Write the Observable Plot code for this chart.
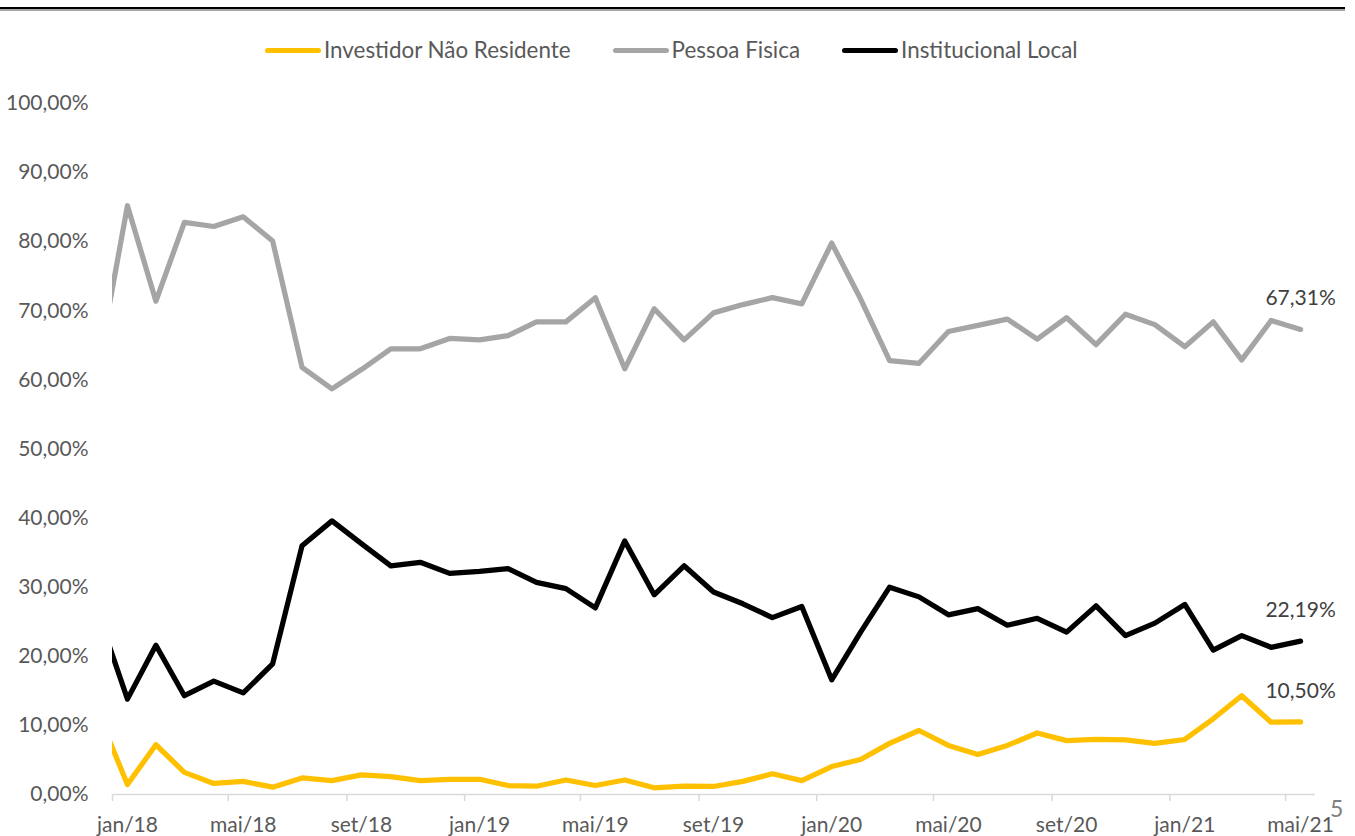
<!DOCTYPE html>
<html><head><meta charset="utf-8">
<script src="https://cdn.jsdelivr.net/npm/d3@7"></script>
<script src="https://cdn.jsdelivr.net/npm/@observablehq/plot@0.6"></script>
<style>
body{margin:0;background:#fff;font-family:Lato,"Open Sans",sans-serif;}
#wrap{position:relative;width:1355px;height:836px;overflow:hidden;background:#fff;}
#ruleBlack{position:absolute;left:0;top:7px;width:1345px;height:2px;background:#000;}
#ruleGray{position:absolute;left:0;top:9px;width:1345px;height:2px;background:#a6a6a6;}
#legend{position:absolute;left:265px;top:37px;display:flex;align-items:center;font-size:22.4px;line-height:26px;color:#595959;white-space:nowrap;}
#legend .item{display:flex;align-items:center;margin-right:42px;}
#legend .sw{display:inline-block;width:56px;height:5px;border-radius:3px;margin-right:3px;}
#chart{position:absolute;left:0;top:0;}
#page{position:absolute;left:1330px;top:797px;font-size:23px;line-height:23px;color:#7f7f7f;}
</style></head><body>
<div id="wrap">
  <div id="ruleBlack"></div><div id="ruleGray"></div>
  <div id="chart"></div>
  <div id="legend"></div>
  <div id="page">5</div>
</div>
<script>
// ---- data ----
const months = [
  "2017-12",
  "2018-01","2018-02","2018-03","2018-04","2018-05","2018-06","2018-07","2018-08","2018-09","2018-10","2018-11","2018-12",
  "2019-01","2019-02","2019-03","2019-04","2019-05","2019-06","2019-07","2019-08","2019-09","2019-10","2019-11","2019-12",
  "2020-01","2020-02","2020-03","2020-04","2020-05","2020-06","2020-07","2020-08","2020-09","2020-10","2020-11","2020-12",
  "2021-01","2021-02","2021-03","2021-04","2021-05"
];
const naoResidente = [
  12.0,
  1.45, 7.2, 3.2, 1.6, 1.9, 1.06, 2.4, 2.0, 2.85, 2.6, 2.0, 2.2,
  2.2, 1.3, 1.2, 2.1, 1.3, 2.1, 0.97, 1.2, 1.16, 1.9, 3.0, 2.0,
  4.05, 5.06, 7.4, 9.26, 7.1, 5.8, 7.1, 8.9, 7.8, 7.96, 7.9, 7.4,
  7.96, 10.95, 14.3, 10.46, 10.50
];
const pessoaFisica = [
  61.5,
  85.2, 71.4, 82.8, 82.2, 83.6, 80.1, 61.8, 58.7, 61.5, 64.5, 64.5, 66.0,
  65.8, 66.4, 68.4, 68.4, 71.9, 61.6, 70.3, 65.8, 69.7, 70.9, 71.9, 71.0,
  79.8, 71.7, 62.8, 62.4, 67.0, 67.9, 68.8, 65.9, 69.0, 65.1, 69.5, 68.0,
  64.8, 68.4, 62.9, 68.6, 67.31
];
const institucional = [
  26.5,
  13.8, 21.6, 14.3, 16.4, 14.7, 18.9, 36.0, 39.6, 36.3, 33.1, 33.6, 32.0,
  32.3, 32.7, 30.7, 29.8, 27.0, 36.7, 28.9, 33.1, 29.3, 27.6, 25.6, 27.2,
  16.6, 23.5, 30.0, 28.6, 26.0, 26.9, 24.5, 25.5, 23.5, 27.3, 23.0, 24.8,
  27.5, 20.9, 23.0, 21.3, 22.19
];
const seriesNames = ["Investidor Não Residente", "Pessoa Fisica", "Institucional Local"];
const seriesColors = ["#FFC000", "#A5A5A5", "#000000"];
const yTicks = [0, 10, 20, 30, 40, 50, 60, 70, 80, 90, 100];
const xTickMonths = ["2018-01","2018-05","2018-09","2019-01","2019-05","2019-09","2020-01","2020-05","2020-09","2021-01","2021-05"];
const xTickLabels = ["jan/18","mai/18","set/18","jan/19","mai/19","set/19","jan/20","mai/20","set/20","jan/21","mai/21"];
const xDomainMonths = ["2018-01", "2021-06"];

// ---- helpers ----
const monthStart = s => { const [y, m] = s.split("-").map(Number); return new Date(Date.UTC(y, m - 1, 1)); };
const monthMid = s => { const [y, m] = s.split("-").map(Number); const a = Date.UTC(y, m - 1, 1), b = Date.UTC(y, m, 1); return new Date((a + b) / 2); };
const pct = v => v.toFixed(2).replace(".", ",") + "%";

const seriesValues = [naoResidente, pessoaFisica, institucional];
const rows = [];
seriesNames.forEach((name, si) => {
  months.forEach((mo, i) => rows.push({series: name, date: monthMid(mo), value: seriesValues[si][i]}));
});
const lastRows = seriesNames.map((name, si) => ({series: name, date: monthMid(months[months.length - 1]), value: seriesValues[si][months.length - 1]}));

const tickStarts = xTickMonths.map(monthStart);
const labelCenters = xTickMonths.map(monthMid);
const labelMap = new Map(labelCenters.map((d, i) => [+d, xTickLabels[i]]));

const chart = Plot.plot({
  width: 1355,
  height: 836,
  marginLeft: 112,
  marginRight: 40,
  marginTop: 103,
  marginBottom: 42,
  style: {fontFamily: "Lato, 'Open Sans', sans-serif", fontSize: "21px", color: "#595959", background: "transparent", overflow: "visible"},
  x: {type: "utc", domain: xDomainMonths.map(monthStart), axis: null},
  y: {domain: [0, 100], axis: null},
  color: {domain: seriesNames, range: seriesColors},
  marks: [
    Plot.ruleY([0], {stroke: "#d9d9d9", strokeWidth: 1.5}),
    Plot.axisX({ticks: tickStarts, tickSize: 7, tickFormat: () => "", label: null, color: "#d9d9d9", strokeWidth: 1.5}),
    Plot.axisX({ticks: labelCenters, tickSize: 0, tickPadding: 23, tickFormat: d => labelMap.get(+d), label: null, color: "#595959"}),
    Plot.axisY({ticks: yTicks, tickSize: 0, tickPadding: 24, tickFormat: d => pct(d), label: null, color: "#595959"}),
    Plot.line(rows, {x: "date", y: "value", z: "series", stroke: "series", strokeWidth: 5.25, strokeLinejoin: "round", strokeLinecap: "round", clip: true}),
    Plot.text(lastRows, {x: "date", y: "value", text: d => pct(d.value), dy: -31, fill: "#404040", fontSize: 21})
  ]
});
document.getElementById("chart").appendChild(chart);

// ---- legend ----
const legend = document.getElementById("legend");
seriesNames.forEach((name, i) => {
  const item = document.createElement("div");
  item.className = "item";
  const sw = document.createElement("span");
  sw.className = "sw";
  sw.style.background = seriesColors[i];
  const label = document.createElement("span");
  label.textContent = name;
  item.appendChild(sw);
  item.appendChild(label);
  legend.appendChild(item);
});
</script>
</body></html>
